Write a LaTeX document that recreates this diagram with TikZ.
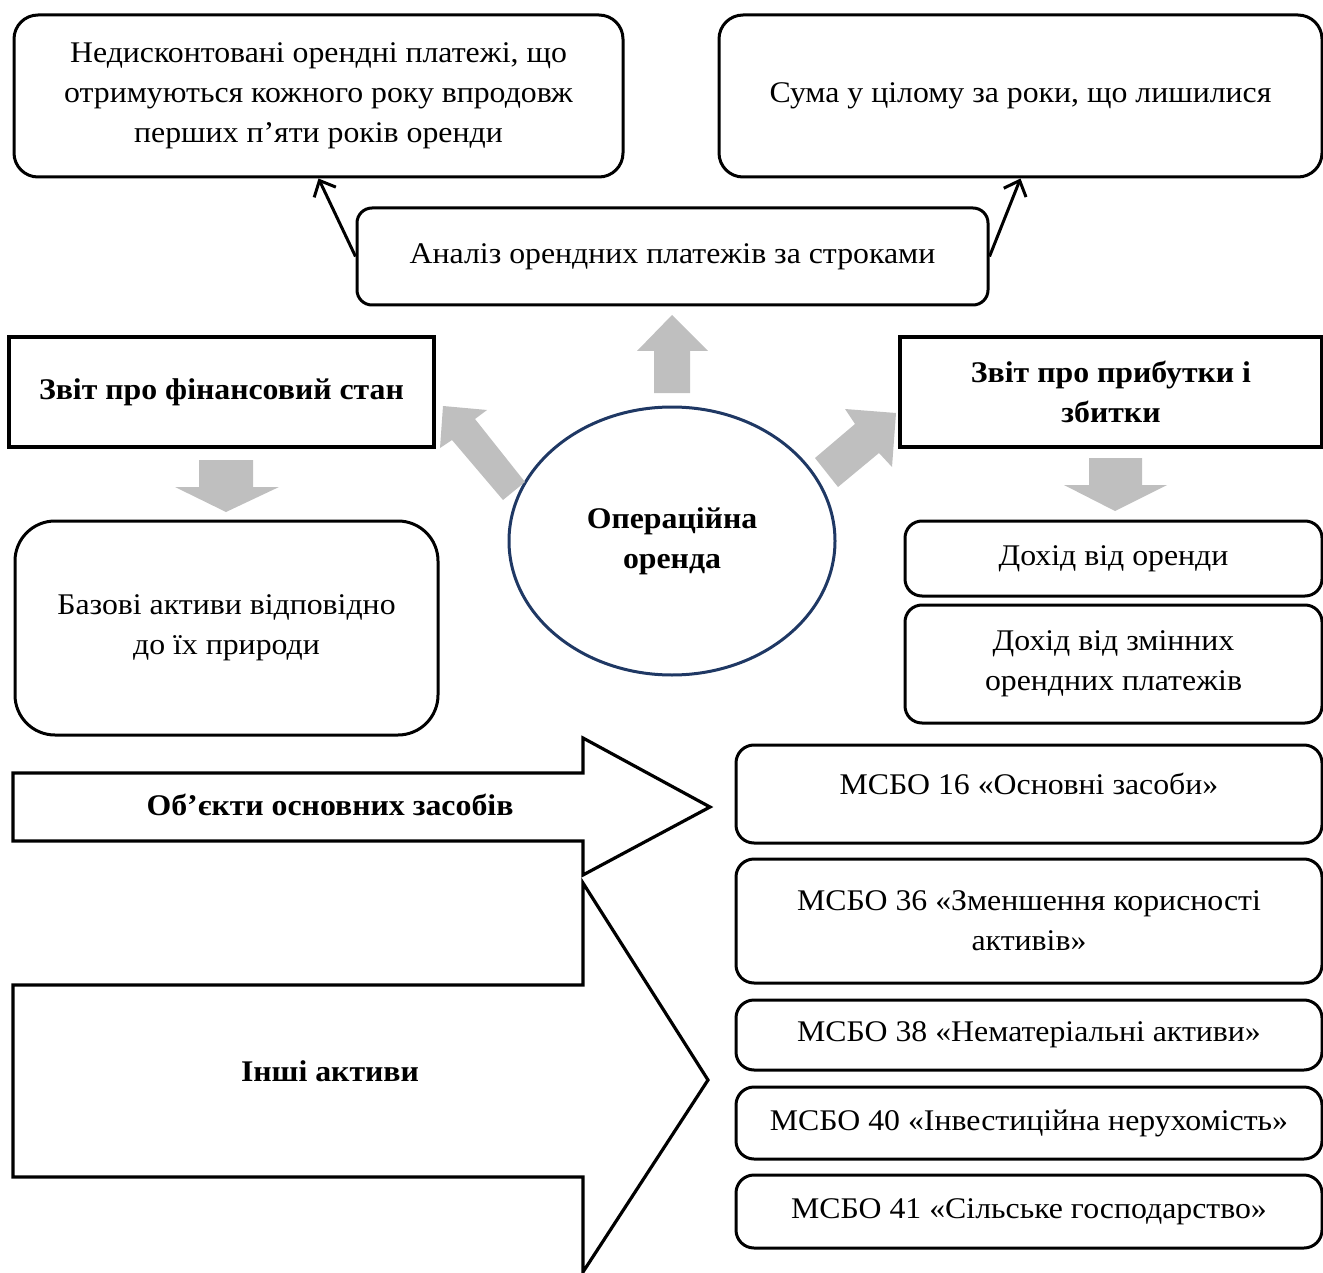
\documentclass[tikz,border=0pt]{standalone}
\usepackage{fontspec}
\setmainfont{Liberation Serif}[FakeStretch=1.06]
\usetikzlibrary{shapes.geometric,arrows.meta}
\definecolor{grayarrow}{HTML}{BFBFBF}
\definecolor{navy}{HTML}{1F3864}
\begin{document}
\begin{tikzpicture}[x=1pt,y=-1pt,
  every node/.style={font=\fontsize{30}{40}\selectfont, align=center, inner sep=0pt},
  rbox/.style={draw, line width=3pt, rounded corners=#1},
  rbox/.default=18pt,
  sbox/.style={draw, line width=3.2pt},
  blockarrow/.style={fill=grayarrow, draw=none},
  whitearrow/.style={draw, line width=3.2pt, line join=miter, fill=white},
  link/.style={line width=3pt, -{Straight Barb[length=13pt,width=24pt,line width=3pt]}},
  ]
\useasboundingbox (0,0) rectangle (1323,1273);

% top boxes
\node[rbox=24pt, minimum width=609pt, minimum height=162pt] (tl) at (318.5,96)
  {Недисконтовані орендні платежі, що\\отримуються кожного року впродовж\\перших п’яти років оренди};
\node[rbox=24pt, minimum width=603pt, minimum height=162pt] (tr) at (1020.5,96)
  {Сума у цілому за роки, що лишилися};
\node[rbox=15pt, minimum width=631pt, minimum height=97pt] (mid) at (672.5,256.5)
  {Аналіз орендних платежів за строками};

\draw[link] (mid.west) -- (tl.south);
\draw[link] (mid.east) -- (tr.south);

% statements
\node[sbox, minimum width=425pt, minimum height=110pt] (fin) at (221.5,392)
  {\bfseries Звіт про фінансовий стан};
\node[sbox, minimum width=422pt, minimum height=110pt] (pnl) at (1111,392)
  {\bfseries Звіт про прибутки і\\\bfseries збитки};

% centre ellipse
\node[draw=navy, line width=3pt, ellipse, minimum width=326pt, minimum height=268pt] (op) at (672,541)
  {\bfseries Операційна\\\bfseries оренда};

% grey block arrows
\fill[blockarrow] (672,315) -- (708,351) -- (690,351) -- (690,393) -- (654,393) -- (654,351) -- (637,351) -- cycle;
\fill[blockarrow] (199,460) -- (253,460) -- (253,487) -- (279,487) -- (226,512) -- (175,487) -- (199,487) -- cycle;
\fill[blockarrow] (1089,458) -- (1142,458) -- (1142,485) -- (1167,485) -- (1115,511) -- (1064,485) -- (1089,485) -- cycle;
\fill[blockarrow] (443,406) -- (487,410) -- (475,419) -- (525,482) -- (503,500) -- (452,440) -- (440,448) -- cycle;
\fill[blockarrow] (896,413) -- (892,467) -- (879,453) -- (838,487) -- (815,458) -- (855,424) -- (845,409) -- cycle;

% lower boxes
\node[rbox=40pt, minimum width=423pt, minimum height=214pt] (base) at (226.5,628)
  {Базові активи відповідно\\до їх природи};
\node[rbox=17pt, minimum width=417pt, minimum height=75pt] (inc1) at (1113.5,558.5)
  {Дохід від оренди};
\node[rbox=17pt, minimum width=417pt, minimum height=118pt] (inc2) at (1113.5,664)
  {Дохід від змінних\\орендних платежів};

% white arrows
\draw[whitearrow] (13,773) -- (583,773) -- (583,738) -- (710,807) -- (583,875) -- (583,841) -- (13,841) -- cycle;
\node (osz) at (330,805) {\bfseries Об’єкти основних засобів};
\draw[whitearrow] (13,985) -- (583,985) -- (583,883) -- (708,1080) -- (583,1272) -- (583,1177) -- (13,1177) -- cycle;
\node (inshi) at (330,1071) {\bfseries Інші активи};

% IAS boxes
\node[rbox, minimum width=586pt, minimum height=98pt] (m16) at (1029,794)
  {\raisebox{10pt}[\height][\depth]{МСБО 16 «Основні засоби»}};
\node[rbox, minimum width=586pt, minimum height=124pt] (m36) at (1029,921)
  {МСБО 36 «Зменшення корисності\\активів»};
\node[rbox, minimum width=586pt, minimum height=70pt] (m38) at (1029,1035)
  {МСБО 38 «Нематеріальні активи»};
\node[rbox, minimum width=586pt, minimum height=72pt] (m40) at (1029,1123)
  {МСБО 40 «Інвестиційна нерухомість»};
\node[rbox, minimum width=586pt, minimum height=73pt] (m41) at (1029,1211.5)
  {МСБО 41 «Сільське господарство»};
\end{tikzpicture}
\end{document}
